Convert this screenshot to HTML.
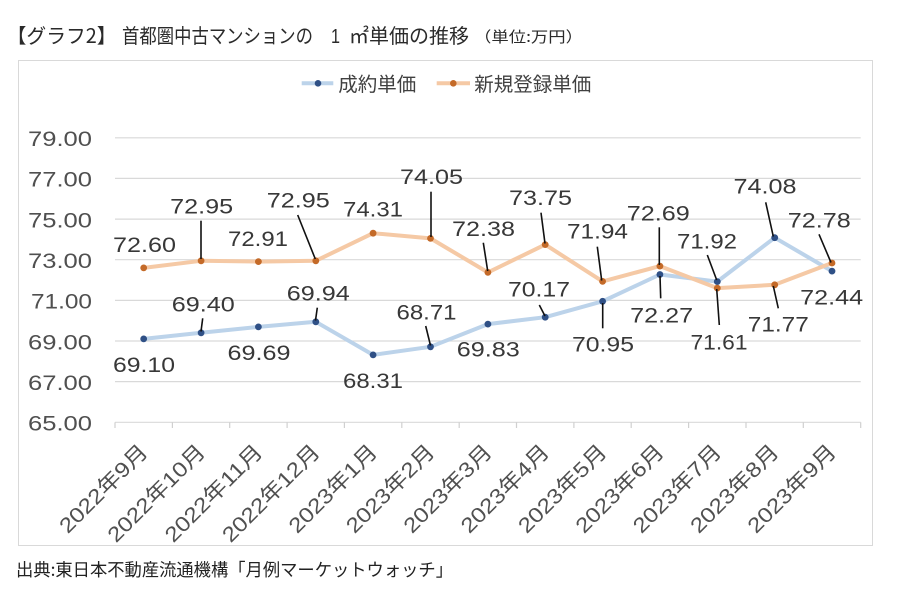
<!DOCTYPE html>
<html><head><meta charset="utf-8"><style>
html,body{margin:0;padding:0;background:#fff;}
svg{display:block;}
text{font-family:"Liberation Sans","Noto Sans CJK JP",sans-serif;}
.j{font-family:"Noto Sans CJK JP","Liberation Sans",sans-serif;}
</style></head><body>
<svg width="900" height="596" viewBox="0 0 900 596" xmlns="http://www.w3.org/2000/svg">
<rect width="900" height="596" fill="#fff"/>
<!-- title -->
<g fill="#2a2a2a" font-size="20">
<text class="j" x="6.6" y="43" textLength="110" lengthAdjust="spacingAndGlyphs">【グラフ2】</text>
<text class="j" x="122" y="43" textLength="191" lengthAdjust="spacingAndGlyphs">首都圏中古マンションの</text>
<text x="331" y="43" textLength="9" lengthAdjust="spacingAndGlyphs">1</text>
<text class="j" x="349" y="43" textLength="120" lengthAdjust="spacingAndGlyphs">㎡単価の推移</text>
<text class="j" x="474" y="42" font-size="15" textLength="109" lengthAdjust="spacingAndGlyphs">（単位:万円）</text>
</g>
<!-- chart border -->
<rect x="18.5" y="60.5" width="854" height="485" fill="#fff" stroke="#d9d9d9" stroke-width="1"/>
<!-- legend -->
<line x1="301.7" y1="83.3" x2="333.3" y2="83.3" stroke="#bcd3ea" stroke-width="4"/>
<circle cx="318" cy="83.3" r="3.3" fill="#2f5086"/>
<text class="j" x="338.3" y="91" font-size="19.5" fill="#404040" textLength="78" lengthAdjust="spacingAndGlyphs">成約単価</text>
<line x1="436.7" y1="83.3" x2="470" y2="83.3" stroke="#f5c9a5" stroke-width="4"/>
<circle cx="453.3" cy="83.3" r="3.3" fill="#c46a28"/>
<text class="j" x="474.3" y="91" font-size="19.5" fill="#404040" textLength="117" lengthAdjust="spacingAndGlyphs">新規登録単価</text>
<!-- gridlines -->
<g stroke="#d9d9d9" stroke-width="1.2">
<line x1="115" y1="137.8" x2="860.7" y2="137.8"/>
<line x1="115" y1="178.4" x2="860.7" y2="178.4"/>
<line x1="115" y1="219.1" x2="860.7" y2="219.1"/>
<line x1="115" y1="259.7" x2="860.7" y2="259.7"/>
<line x1="115" y1="300.4" x2="860.7" y2="300.4"/>
<line x1="115" y1="341.0" x2="860.7" y2="341.0"/>
<line x1="115" y1="381.6" x2="860.7" y2="381.6"/>
<line x1="115" y1="422.3" x2="860.7" y2="422.3"/>
</g>
<g stroke="#d0d0d0" stroke-width="1.2">
<line x1="115" y1="422.3" x2="115" y2="428"/>
<line x1="172.4" y1="422.3" x2="172.4" y2="428"/>
<line x1="229.7" y1="422.3" x2="229.7" y2="428"/>
<line x1="287.1" y1="422.3" x2="287.1" y2="428"/>
<line x1="344.4" y1="422.3" x2="344.4" y2="428"/>
<line x1="401.8" y1="422.3" x2="401.8" y2="428"/>
<line x1="459.2" y1="422.3" x2="459.2" y2="428"/>
<line x1="516.5" y1="422.3" x2="516.5" y2="428"/>
<line x1="573.9" y1="422.3" x2="573.9" y2="428"/>
<line x1="631.2" y1="422.3" x2="631.2" y2="428"/>
<line x1="688.6" y1="422.3" x2="688.6" y2="428"/>
<line x1="746.0" y1="422.3" x2="746.0" y2="428"/>
<line x1="803.3" y1="422.3" x2="803.3" y2="428"/>
<line x1="860.7" y1="422.3" x2="860.7" y2="428"/>
</g>
<!-- y tick labels -->
<g font-size="21" fill="#505050" text-anchor="end">
<text x="92" y="146.1" textLength="64" lengthAdjust="spacingAndGlyphs">79.00</text>
<text x="92" y="186.7" textLength="64" lengthAdjust="spacingAndGlyphs">77.00</text>
<text x="92" y="227.4" textLength="64" lengthAdjust="spacingAndGlyphs">75.00</text>
<text x="92" y="268.0" textLength="64" lengthAdjust="spacingAndGlyphs">73.00</text>
<text x="92" y="308.7" textLength="61" lengthAdjust="spacingAndGlyphs">71.00</text>
<text x="92" y="349.3" textLength="64" lengthAdjust="spacingAndGlyphs">69.00</text>
<text x="92" y="389.9" textLength="64" lengthAdjust="spacingAndGlyphs">67.00</text>
<text x="92" y="430.6" textLength="64" lengthAdjust="spacingAndGlyphs">65.00</text>
</g>
<!-- x labels -->
<g font-size="21" fill="#505050" text-anchor="end">
<text transform="translate(149.2,453) rotate(-45)" textLength="115" lengthAdjust="spacingAndGlyphs">2022年9月</text>
<text transform="translate(206.6,453) rotate(-45)" textLength="128" lengthAdjust="spacingAndGlyphs">2022年10月</text>
<text transform="translate(263.9,453) rotate(-45)" textLength="128" lengthAdjust="spacingAndGlyphs">2022年11月</text>
<text transform="translate(321.3,453) rotate(-45)" textLength="128" lengthAdjust="spacingAndGlyphs">2022年12月</text>
<text transform="translate(378.6,453) rotate(-45)" textLength="115" lengthAdjust="spacingAndGlyphs">2023年1月</text>
<text transform="translate(436.0,453) rotate(-45)" textLength="115" lengthAdjust="spacingAndGlyphs">2023年2月</text>
<text transform="translate(493.4,453) rotate(-45)" textLength="115" lengthAdjust="spacingAndGlyphs">2023年3月</text>
<text transform="translate(550.7,453) rotate(-45)" textLength="115" lengthAdjust="spacingAndGlyphs">2023年4月</text>
<text transform="translate(608.1,453) rotate(-45)" textLength="115" lengthAdjust="spacingAndGlyphs">2023年5月</text>
<text transform="translate(665.4,453) rotate(-45)" textLength="115" lengthAdjust="spacingAndGlyphs">2023年6月</text>
<text transform="translate(722.8,453) rotate(-45)" textLength="115" lengthAdjust="spacingAndGlyphs">2023年7月</text>
<text transform="translate(780.2,453) rotate(-45)" textLength="115" lengthAdjust="spacingAndGlyphs">2023年8月</text>
<text transform="translate(837.5,453) rotate(-45)" textLength="115" lengthAdjust="spacingAndGlyphs">2023年9月</text>
</g>
<!-- series lines -->
<polyline fill="none" stroke="#bcd3ea" stroke-width="4" stroke-linejoin="round" stroke-linecap="round"
 points="143.7,338.9 201.1,332.8 258.4,326.9 315.8,321.8 373.1,354.9 430.5,346.8 487.9,324.1 545.2,317.2 602.6,301.3 659.9,274.5 717.3,281.6 774.7,237.7 832.0,271.1"/>
<polyline fill="none" stroke="#f5c9a5" stroke-width="4" stroke-linejoin="round" stroke-linecap="round"
 points="143.7,267.9 201.1,260.8 258.4,261.6 315.8,260.8 373.1,233.2 430.5,238.4 487.9,272.4 545.2,244.6 602.6,281.4 659.9,266.1 717.3,288.1 774.7,284.8 832.0,263.0"/>
<g fill="#2f5086">
<circle cx="143.7" cy="338.9" r="3.4"/><circle cx="201.1" cy="332.8" r="3.4"/><circle cx="258.4" cy="326.9" r="3.4"/>
<circle cx="315.8" cy="321.8" r="3.4"/><circle cx="373.1" cy="354.9" r="3.4"/><circle cx="430.5" cy="346.8" r="3.4"/>
<circle cx="487.9" cy="324.1" r="3.4"/><circle cx="545.2" cy="317.2" r="3.4"/><circle cx="602.6" cy="301.3" r="3.4"/>
<circle cx="659.9" cy="274.5" r="3.4"/><circle cx="717.3" cy="281.6" r="3.4"/><circle cx="774.7" cy="237.7" r="3.4"/>
<circle cx="832.0" cy="271.1" r="3.4"/>
</g>
<g fill="#c46a28">
<circle cx="143.7" cy="267.9" r="3.4"/><circle cx="201.1" cy="260.8" r="3.4"/><circle cx="258.4" cy="261.6" r="3.4"/>
<circle cx="315.8" cy="260.8" r="3.4"/><circle cx="373.1" cy="233.2" r="3.4"/><circle cx="430.5" cy="238.4" r="3.4"/>
<circle cx="487.9" cy="272.4" r="3.4"/><circle cx="545.2" cy="244.6" r="3.4"/><circle cx="602.6" cy="281.4" r="3.4"/>
<circle cx="659.9" cy="266.1" r="3.4"/><circle cx="717.3" cy="288.1" r="3.4"/><circle cx="774.7" cy="284.8" r="3.4"/>
<circle cx="832.0" cy="263.0" r="3.4"/>
</g>
<!-- leader lines -->
<g stroke="#111" stroke-width="1.6">
<line x1="201" y1="220.7" x2="201" y2="259"/>
<line x1="297.7" y1="215" x2="315.3" y2="259"/>
<line x1="431" y1="191.7" x2="431" y2="237"/>
<line x1="483.3" y1="242.7" x2="487.7" y2="271"/>
<line x1="541" y1="212.7" x2="545" y2="243.5"/>
<line x1="597.3" y1="246.7" x2="601.7" y2="280.5"/>
<line x1="659.3" y1="227.3" x2="659.3" y2="265"/>
<line x1="716.7" y1="289" x2="719.3" y2="325"/>
<line x1="773.3" y1="286" x2="778.3" y2="308.3"/>
<line x1="819" y1="234.3" x2="831" y2="262.5"/>
<line x1="202.7" y1="318.3" x2="201" y2="331.5"/>
<line x1="317.3" y1="307.7" x2="315.5" y2="320.5"/>
<line x1="425.7" y1="326" x2="430.5" y2="345.5"/>
<line x1="539.3" y1="305" x2="545" y2="316"/>
<line x1="602.7" y1="303" x2="602.7" y2="328.3"/>
<line x1="660" y1="276" x2="660.7" y2="298.3"/>
<line x1="707.3" y1="255" x2="716.7" y2="280"/>
<line x1="765.7" y1="202.3" x2="773.3" y2="236.5"/>
</g>
<!-- data labels -->
<g font-size="21" fill="#383838" text-anchor="middle">
<text x="144.5" y="252" textLength="63" lengthAdjust="spacingAndGlyphs">72.60</text>
<text x="201.7" y="213.3" textLength="63" lengthAdjust="spacingAndGlyphs">72.95</text>
<text x="258" y="246" textLength="60" lengthAdjust="spacingAndGlyphs">72.91</text>
<text x="298.3" y="207.3" textLength="63" lengthAdjust="spacingAndGlyphs">72.95</text>
<text x="373" y="216.7" textLength="60" lengthAdjust="spacingAndGlyphs">74.31</text>
<text x="431.5" y="184" textLength="63" lengthAdjust="spacingAndGlyphs">74.05</text>
<text x="483.5" y="236" textLength="63" lengthAdjust="spacingAndGlyphs">72.38</text>
<text x="540.5" y="205" textLength="63" lengthAdjust="spacingAndGlyphs">73.75</text>
<text x="597.5" y="238.3" textLength="61" lengthAdjust="spacingAndGlyphs">71.94</text>
<text x="658.3" y="220.7" textLength="63" lengthAdjust="spacingAndGlyphs">72.69</text>
<text x="719" y="349.3" textLength="57" lengthAdjust="spacingAndGlyphs">71.61</text>
<text x="778.3" y="331.7" textLength="61" lengthAdjust="spacingAndGlyphs">71.77</text>
<text x="819.3" y="227.3" textLength="63" lengthAdjust="spacingAndGlyphs">72.78</text>
<text x="144" y="372" textLength="62" lengthAdjust="spacingAndGlyphs">69.10</text>
<text x="203.3" y="311.7" textLength="63" lengthAdjust="spacingAndGlyphs">69.40</text>
<text x="259" y="360" textLength="63" lengthAdjust="spacingAndGlyphs">69.69</text>
<text x="318.3" y="300.7" textLength="63" lengthAdjust="spacingAndGlyphs">69.94</text>
<text x="373" y="388" textLength="60" lengthAdjust="spacingAndGlyphs">68.31</text>
<text x="426.5" y="319.3" textLength="60" lengthAdjust="spacingAndGlyphs">68.71</text>
<text x="488.3" y="356.7" textLength="63" lengthAdjust="spacingAndGlyphs">69.83</text>
<text x="539" y="296.7" textLength="62" lengthAdjust="spacingAndGlyphs">70.17</text>
<text x="603" y="351.7" textLength="62" lengthAdjust="spacingAndGlyphs">70.95</text>
<text x="661.7" y="322.3" textLength="63" lengthAdjust="spacingAndGlyphs">72.27</text>
<text x="707" y="248.3" textLength="60" lengthAdjust="spacingAndGlyphs">71.92</text>
<text x="765" y="193.3" textLength="63" lengthAdjust="spacingAndGlyphs">74.08</text>
<text x="831.7" y="304.3" textLength="63" lengthAdjust="spacingAndGlyphs">72.44</text>
</g>
<!-- footer -->
<text class="j" x="16" y="576" font-size="17.5" fill="#222" textLength="437" lengthAdjust="spacingAndGlyphs">出典:東日本不動産流通機構「月例マーケットウォッチ」</text>
</svg>
</body></html>
